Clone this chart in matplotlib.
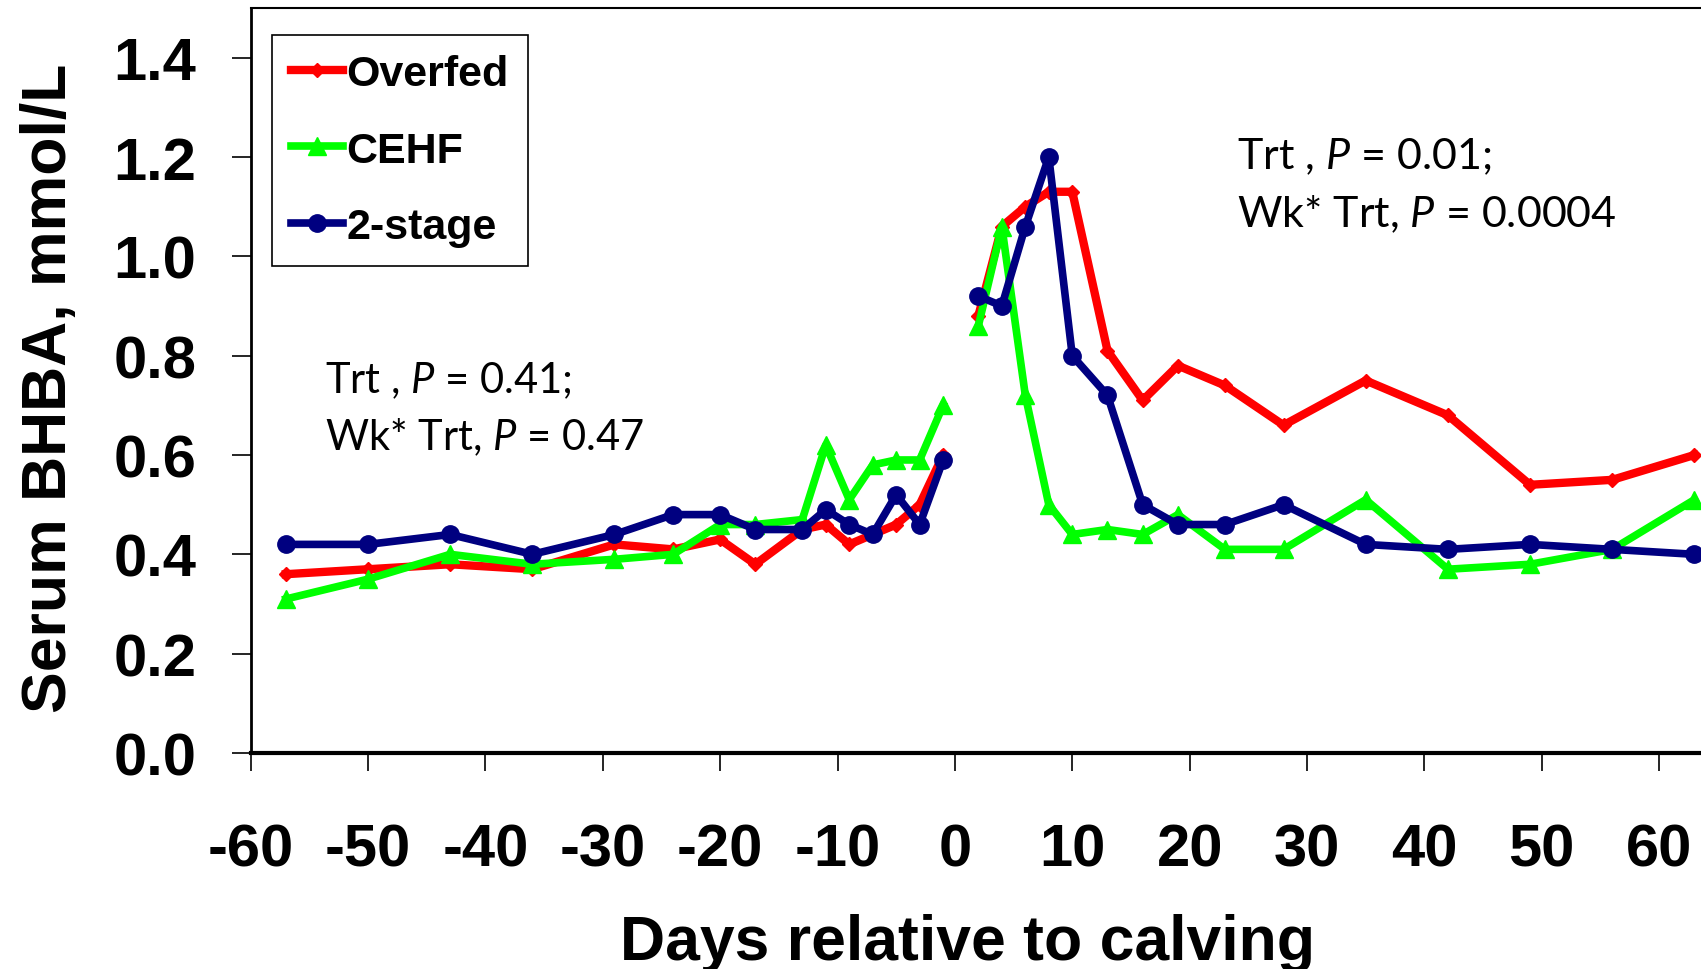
import matplotlib
matplotlib.use('Agg')
import matplotlib.pyplot as plt
import numpy as np

# days relative to calving (pre and post segments are drawn separately)
days = np.array([-57, -50, -43, -36, -29, -24, -20, -17, -13, -11, -9, -7, -5, -3, -1,
                 2, 4, 6, 8, 10, 13, 16, 19, 23, 28, 35, 42, 49, 56, 63])
overfed = np.array([0.36, 0.37, 0.38, 0.37, 0.42, 0.41, 0.43, 0.38, 0.45, 0.46, 0.42, 0.44, 0.46, 0.50, 0.60,
                    0.88, 1.06, 1.10, 1.13, 1.13, 0.81, 0.71, 0.78, 0.74, 0.66, 0.75, 0.68, 0.54, 0.55, 0.60])
cehf = np.array([0.31, 0.35, 0.40, 0.38, 0.39, 0.40, 0.46, 0.46, 0.47, 0.62, 0.51, 0.58, 0.59, 0.59, 0.70,
                 0.86, 1.06, 0.72, 0.50, 0.44, 0.45, 0.44, 0.48, 0.41, 0.41, 0.51, 0.37, 0.38, 0.41, 0.51])
two_stage = np.array([0.42, 0.42, 0.44, 0.40, 0.44, 0.48, 0.48, 0.45, 0.45, 0.49, 0.46, 0.44, 0.52, 0.46, 0.59,
                      0.92, 0.90, 1.06, 1.20, 0.80, 0.72, 0.50, 0.46, 0.46, 0.50, 0.42, 0.41, 0.42, 0.41, 0.40])
series_names = ['Overfed', 'CEHF', '2-stage']
x_ticks = [-60, -50, -40, -30, -20, -10, 0, 10, 20, 30, 40, 50, 60]
y_ticks = [0.0, 0.2, 0.4, 0.6, 0.8, 1.0, 1.2, 1.4]

plt.rcParams['font.family'] = ['Liberation Sans', 'DejaVu Sans']
plt.rcParams['font.weight'] = 'bold'
plt.rcParams['mathtext.fontset'] = 'custom'
plt.rcParams['mathtext.rm'] = 'Lato:weight=normal'
plt.rcParams['mathtext.it'] = 'Lato:style=italic:weight=normal'

fig = plt.figure(figsize=(17.01, 9.70), dpi=100)
# axes runs past the right edge of the figure, like the cropped slide
ax = fig.add_axes([250.6 / 1701, 216 / 970, 1479 / 1701, 745 / 970])

styles = [('#ff0000', 'D', 7.5, 6), ('#00ff00', '^', 12.5, 5.5), ('#000080', 'o', 12.5, 5.5)]
pre = days < 0
post = days > 0
handles = []
for vals, (col, mk, ms, lw), name in zip([overfed, cehf, two_stage], styles, series_names):
    h, = ax.plot(days[pre], vals[pre], color=col, lw=lw, marker=mk, ms=ms, mec=col, label=name)
    ax.plot(days[post], vals[post], color=col, lw=lw, marker=mk, ms=ms, mec=col)
    handles.append(h)

ax.set_xlim(-60, 66)
ax.set_ylim(0, 1.5)
ax.set_xticks(x_ticks)
ax.set_xticklabels([str(v) for v in x_ticks])
ax.set_yticks(y_ticks)
ax.set_yticklabels([f'{v:.1f}' for v in y_ticks])
ax.tick_params(axis='x', direction='out', length=13, width=1.2, pad=37, labelsize=43)
ax.tick_params(axis='y', direction='out', length=14, width=1.2, pad=25, labelsize=43)

ax.spines['right'].set_visible(False)
ax.spines['top'].set_linewidth(1.5)
ax.spines['left'].set_linewidth(2)
ax.spines['bottom'].set_linewidth(3)

ax.set_xlabel('Days relative to calving', fontsize=45, fontweight='bold', va='baseline')
ax.xaxis.set_label_coords(0.4844, -0.2765)
ax.set_ylabel('Serum BHBA, mmol/L', fontsize=45, fontweight='bold', va='center')
ax.yaxis.set_label_coords(-0.136, 0.4913)

ax.text(-53.7, 0.726, 'Trt , $P$ = 0.41;', family='Lato', fontweight='normal', fontsize=30, va='baseline')
ax.text(-53.7, 0.611, 'Wk* Trt, $P$ = 0.47', family='Lato', fontweight='normal', fontsize=30, va='baseline')
ax.text(24.0, 1.177, 'Trt , $P$ = 0.01;', family='Lato', fontweight='normal', fontsize=31, va='baseline')
ax.text(24.0, 1.060, 'Wk* Trt, $P$ = 0.0004', family='Lato', fontweight='normal', fontsize=31, va='baseline')

leg = ax.legend(handles, series_names, loc='upper left', bbox_to_anchor=(0.0145, 0.9638),
                borderaxespad=0, prop={'weight': 'bold', 'size': 31}, handlelength=1.2,
                handletextpad=0.07, borderpad=0.45, labelspacing=0.84, fancybox=False,
                edgecolor='black', framealpha=1)
leg.get_frame().set_linewidth(1.2)

fig.savefig('out.png', dpi=100)
